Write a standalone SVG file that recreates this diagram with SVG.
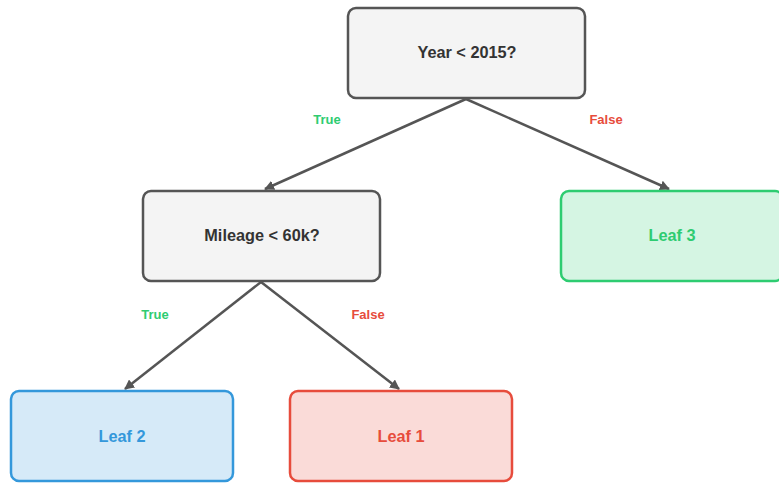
<svg xmlns="http://www.w3.org/2000/svg" width="779" height="483" viewBox="0 0 779 483">
<defs>
<style>
.box{stroke-width:2.5}
.q{fill:#f4f4f4;stroke:#555}
.g{fill:#d5f5e3;stroke:#2ecc71}
.b{fill:#d6eaf8;stroke:#3498db}
.r{fill:#fadbd8;stroke:#e74c3c}
.t{font-family:"Liberation Sans",Arial,sans-serif;font-weight:bold;font-size:16.3px;text-anchor:middle;dominant-baseline:central}
.lbl{font-family:"Liberation Sans",Arial,sans-serif;font-weight:bold;font-size:13px;text-anchor:middle;dominant-baseline:central}
.edge{stroke:#555;stroke-width:2.5;fill:none;marker-end:url(#ah)}
</style>
<marker id="ah" viewBox="0 0 10 10" refX="9" refY="5" markerWidth="4" markerHeight="4" orient="auto" markerUnits="strokeWidth">
<path d="M0,0 L10,5 L0,10 z" fill="#555"/>
</marker>
</defs>
<g id="edges">
<line class="edge" x1="466" y1="99" x2="265" y2="189"/>
<line class="edge" x1="466" y1="99" x2="669" y2="189"/>
<line class="edge" x1="261" y1="282" x2="125" y2="389"/>
<line class="edge" x1="261" y1="282" x2="399" y2="389"/>
<text class="lbl" x="327" y="119" fill="#2ecc71">True</text>
<text class="lbl" x="606" y="119" fill="#e74c3c">False</text>
<text class="lbl" x="155" y="314" fill="#2ecc71">True</text>
<text class="lbl" x="368" y="314" fill="#e74c3c">False</text>
</g>
<g id="root">
<rect class="box q" x="348" y="8" width="237" height="90" rx="8"/>
<text class="t" x="467" y="52" fill="#333">Year &lt; 2015?</text>
</g>
<g id="mileage">
<rect class="box q" x="143" y="191" width="237" height="90" rx="8"/>
<text class="t" x="262" y="235" fill="#333">Mileage &lt; 60k?</text>
</g>
<g id="leaf3">
<rect class="box g" x="561" y="191" width="222" height="90" rx="8"/>
<text class="t" x="672" y="235" fill="#2ecc71">Leaf 3</text>
</g>
<g id="leaf2">
<rect class="box b" x="11" y="391" width="222" height="90" rx="8"/>
<text class="t" x="122" y="436" fill="#3498db">Leaf 2</text>
</g>
<g id="leaf1">
<rect class="box r" x="290" y="391" width="222" height="90" rx="8"/>
<text class="t" x="401" y="436" fill="#e74c3c">Leaf 1</text>
</g>
</svg>
